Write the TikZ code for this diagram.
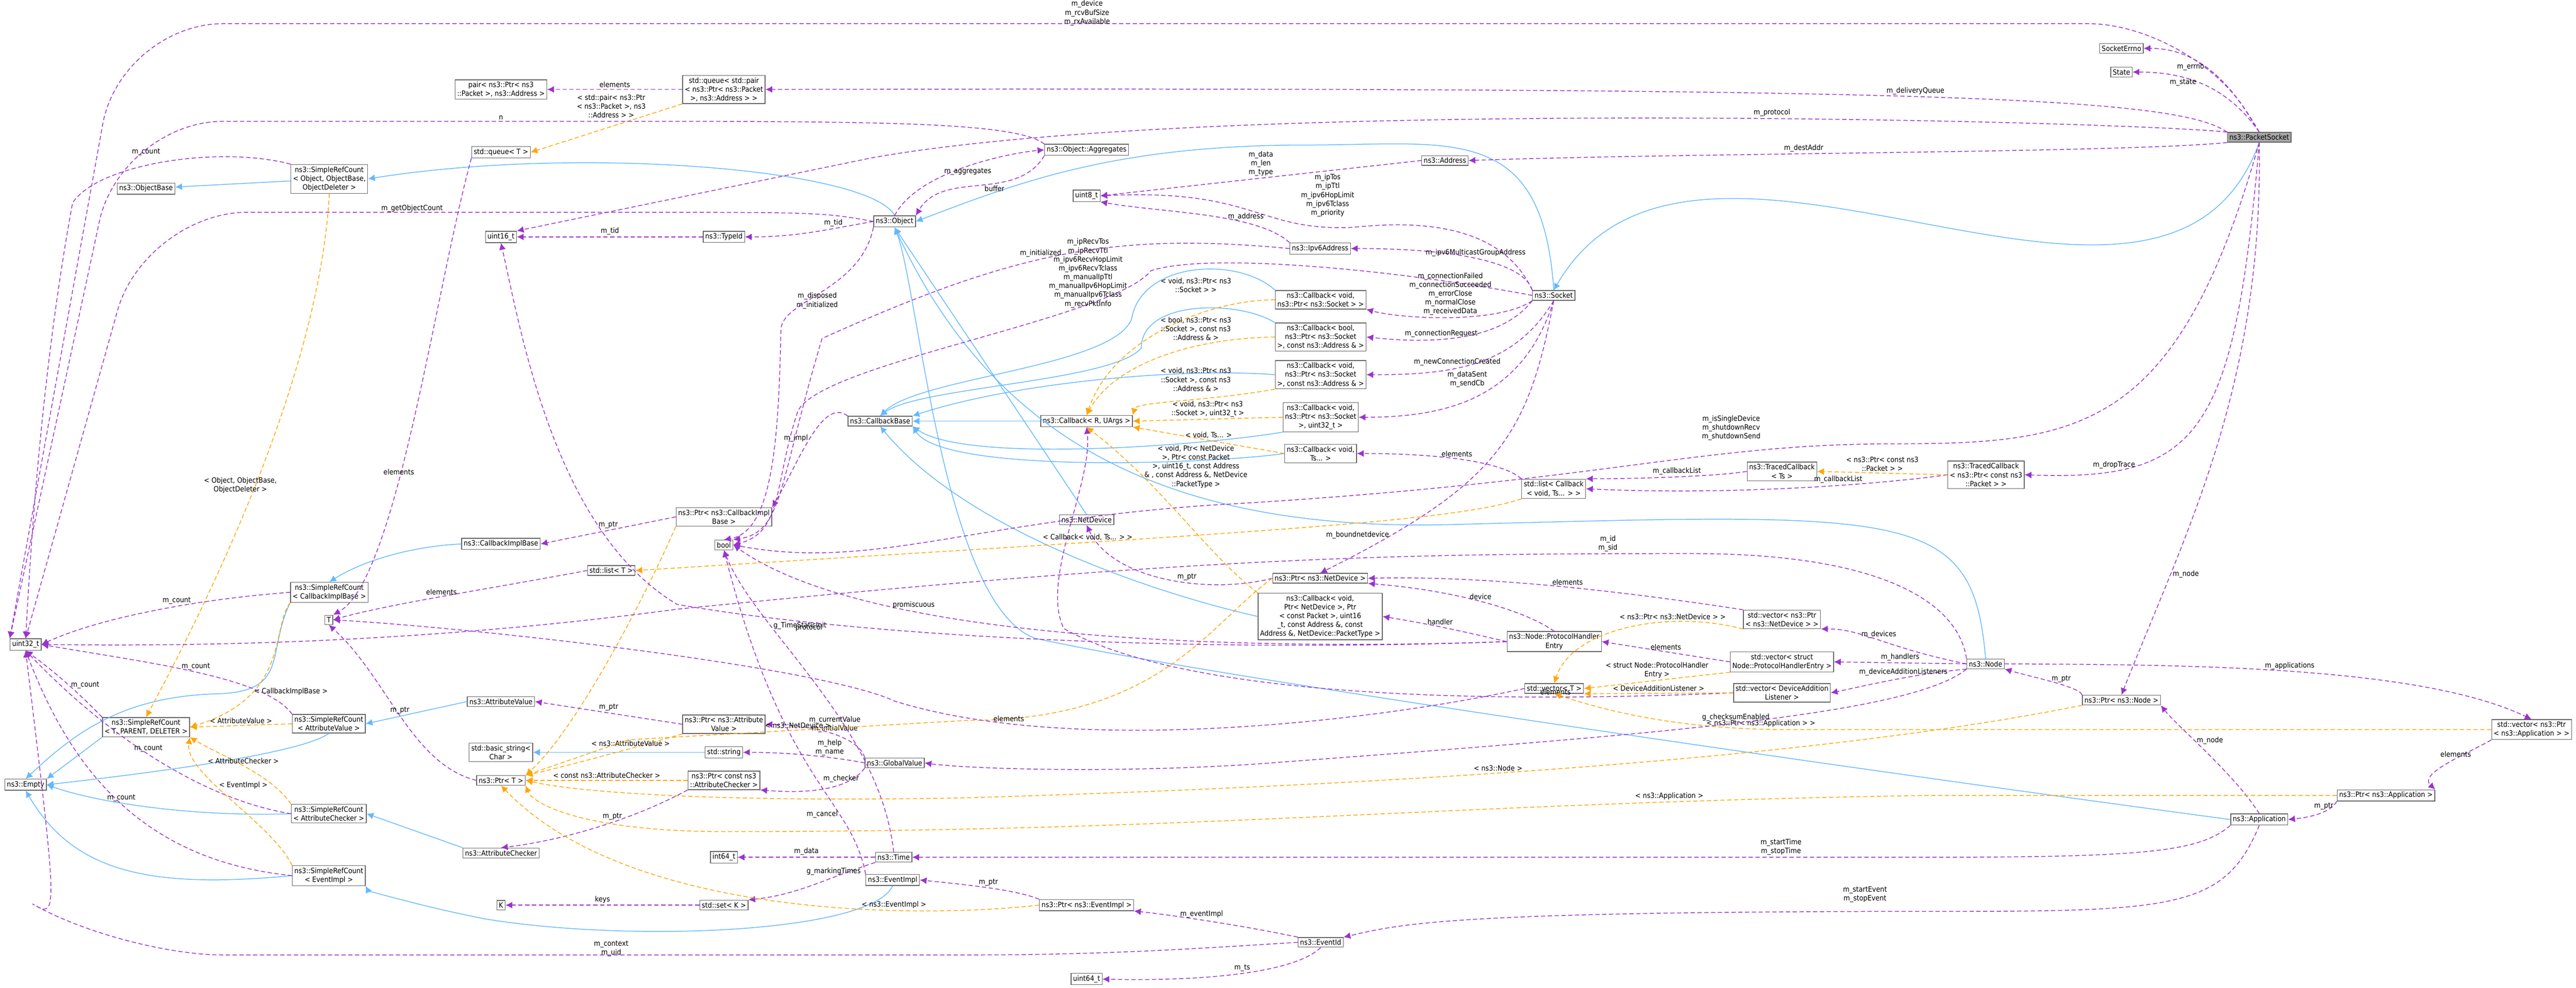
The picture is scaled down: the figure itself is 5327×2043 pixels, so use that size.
\documentclass[tikz,border=0pt]{standalone}
\usepackage{fontspec}
\setmainfont{DejaVu Sans Condensed}
\usetikzlibrary{arrows.meta,positioning,calc}
\definecolor{inhblue}{HTML}{63B8FF}
\definecolor{usepurple}{HTML}{9A32CD}
\definecolor{tmplorange}{HTML}{FFA500}
\tikzset{
  cls/.style={draw=gray!80!black, fill=white, align=center, inner sep=1.2pt, font=\fontsize{4.3}{5.2}\selectfont},
  cur/.style={cls, fill=gray!70},
  inh/.style={-{Latex[length=4pt,width=4pt]}, draw=inhblue, line width=0.45pt},
  use/.style={-{Latex[length=4pt,width=4pt]}, draw=usepurple, dash pattern=on 2.5pt off 1.5pt, line width=0.45pt},
  tmpl/.style={-{Latex[length=4pt,width=4pt]}, draw=tmplorange, dash pattern=on 2.5pt off 1.5pt, line width=0.45pt},
  lbl/.style={font=\fontsize{4.3}{5.2}\selectfont, align=center, inner sep=1pt},
}
\begin{document}
\begin{tikzpicture}[x=0.01cm, y=-0.01cm]
  \useasboundingbox (0,0) rectangle (5327,2043);
  % classes
  \node[cur] (ps) at (4672,284) {ns3::PacketSocket};
  \node[cls] (errno) at (4387,100) {SocketErrno};
  \node[cls] (state) at (4387,149) {State};
  \node[cls] (pair) at (1036,185) {pair< ns3::Ptr< ns3\\::Packet >, ns3::Address >};
  \node[cls] (qpair) at (1497,185) {std::queue< std::pair\\< ns3::Ptr< ns3::Packet\\ >, ns3::Address > >};
  \node[cls] (queueT) at (1036,315) {std::queue< T >};
  \node[cls] (srobj) at (681,370) {ns3::SimpleRefCount\\< Object, ObjectBase,\\ ObjectDeleter >};
  \node[cls] (objbase) at (302,390) {ns3::ObjectBase};
  \node[cls] (u16) at (1036,490) {uint16\_t};
  \node[cls] (typeid) at (1497,490) {ns3::TypeId};
  \node[cls] (object) at (1850,458) {ns3::Object};
  \node[cls] (aggr) at (2247,310) {ns3::Object::Aggregates};
  \node[cls] (address) at (2988,332) {ns3::Address};
  \node[cls] (u8) at (2247,405) {uint8\_t};
  \node[cls] (ipv6) at (2730,514) {ns3::Ipv6Address};
  \node[cls] (socket) at (3213,611) {ns3::Socket};
  \node[cls] (cbsock) at (2731,620) {ns3::Callback< void,\\ ns3::Ptr< ns3::Socket > >};
  \node[cls] (cbbool) at (2731,697) {ns3::Callback< bool,\\ ns3::Ptr< ns3::Socket\\ >, const ns3::Address \& >};
  \node[cls] (cbaddr) at (2731,775) {ns3::Callback< void,\\ ns3::Ptr< ns3::Socket\\ >, const ns3::Address \& >};
  \node[cls] (cbu32) at (2731,863) {ns3::Callback< void,\\ ns3::Ptr< ns3::Socket\\ >, uint32\_t >};
  \node[cls] (cbts) at (2731,938) {ns3::Callback< void,\\ Ts... >};
  \node[cls] (cbbase) at (1820,871) {ns3::CallbackBase};
  \node[cls] (cbR) at (2247,871) {ns3::Callback< R, UArgs >};
  \node[cls] (listcb) at (3213,1011) {std::list< Callback\\< void, Ts... > >};
  \node[cls] (tcts) at (3685,975) {ns3::TracedCallback\\< Ts >};
  \node[cls] (tcpkt) at (4107,982) {ns3::TracedCallback\\< ns3::Ptr< const ns3\\::Packet > >};
  \node[cls] (ptrcbimpl) at (1497,1069) {ns3::Ptr< ns3::CallbackImpl\\Base >};
  \node[cls] (cbimpl) at (1036,1125) {ns3::CallbackImplBase};
  \node[cls] (bool) at (1497,1127) {bool};
  \node[cls] (listT) at (1264,1180) {std::list< T >};
  \node[cls] (srcbimpl) at (681,1225) {ns3::SimpleRefCount\\< CallbackImplBase >};
  \node[cls] (T) at (680,1282) {T};
  \node[cls] (u32) at (53,1333) {uint32\_t};
  \node[cls] (srT) at (302,1504) {ns3::SimpleRefCount\\< T, PARENT, DELETER >};
  \node[cls] (srav) at (680,1497) {ns3::SimpleRefCount\\< AttributeValue >};
  \node[cls] (attrval) at (1036,1451) {ns3::AttributeValue};
  \node[cls] (ptrav) at (1497,1498) {ns3::Ptr< ns3::Attribute\\Value >};
  \node[cls] (bstr) at (1036,1556) {std::basic\_string<\\ Char >};
  \node[cls] (str) at (1497,1556) {std::string};
  \node[cls] (empty) at (53,1623) {ns3::Empty};
  \node[cls] (ptrT) at (1036,1614) {ns3::Ptr< T >};
  \node[cls] (ptrac) at (1497,1614) {ns3::Ptr< const ns3\\::AttributeChecker >};
  \node[cls] (srac) at (680,1683) {ns3::SimpleRefCount\\< AttributeChecker >};
  \node[cls] (attrchk) at (1036,1764) {ns3::AttributeChecker};
  \node[cls] (i64) at (1497,1773) {int64\_t};
  \node[cls] (srev) at (680,1811) {ns3::SimpleRefCount\\< EventImpl >};
  \node[cls] (K) at (1036,1872) {K};
  \node[cls] (setK) at (1497,1872) {std::set< K >};
  \node[cls] (netdev) at (2247,1075) {ns3::NetDevice};
  \node[cls] (ptrnd) at (2730,1196) {ns3::Ptr< ns3::NetDevice >};
  \node[cls] (cbnd) at (2730,1275) {ns3::Callback< void,\\ Ptr< NetDevice >, Ptr\\< const Packet >, uint16\\\_t, const Address \&, const\\ Address \&, NetDevice::PacketType >};
  \node[cls] (phe) at (3214,1327) {ns3::Node::ProtocolHandler\\Entry};
  \node[cls] (vecT) at (3214,1424) {std::vector< T >};
  \node[cls] (global) at (1850,1578) {ns3::GlobalValue};
  \node[cls] (time) at (1848,1773) {ns3::Time};
  \node[cls] (evimpl) at (1846,1820) {ns3::EventImpl};
  \node[cls] (ptrev) at (2247,1872) {ns3::Ptr< ns3::EventImpl >};
  \node[cls] (evid) at (2731,1949) {ns3::EventId};
  \node[cls] (u64) at (2247,2025) {uint64\_t};
  \node[cls] (vecnd) at (3685,1281) {std::vector< ns3::Ptr\\< ns3::NetDevice > >};
  \node[cls] (vecphe) at (3685,1369) {std::vector< struct\\ Node::ProtocolHandlerEntry >};
  \node[cls] (vecdal) at (3685,1433) {std::vector< DeviceAddition\\Listener >};
  \node[cls] (node) at (4106,1373) {ns3::Node};
  \node[cls] (ptrnode) at (4387,1448) {ns3::Ptr< ns3::Node >};
  \node[cls] (vecapp) at (5235,1509) {std::vector< ns3::Ptr\\< ns3::Application > >};
  \node[cls] (ptrapp) at (4934,1645) {ns3::Ptr< ns3::Application >};
  \node[cls] (app) at (4672,1695) {ns3::Application};

  % inheritance
  \draw[inh] (ps.south) to[out=-110,in=60] (socket.north);
  \draw[inh] (socket.north) .. controls (3190,250) and (3000,300) .. (2700,300) .. controls (2300,300) and (2100,380) .. (object.east);
  \draw[inh] (object.north) .. controls (1800,350) and (1200,300) .. (srobj.east);
  \draw[inh] (srobj) -- (objbase);
  \draw[inh] (netdev.north) -- (object.south);
  \draw[inh] (node.north) .. controls (4080,1050) and (3950,1060) .. (3000,1085) .. controls (2400,1100) and (2050,900) .. (object.south);
  \draw[inh] (app.west) .. controls (3900,1600) and (2500,1400) .. (2140,1320) .. controls (1950,1250) and (1900,600) .. (object.south);
  \draw[inh] (cbimpl.west) .. controls (850,1130) and (750,1160) .. (srcbimpl.north);
  \draw[inh] (srcbimpl.south west) .. controls (550,1350) and (600,1430) .. (450,1435) .. controls (250,1440) and (150,1520) .. (empty.north);
  \draw[inh] (attrval.west) -- (srav.east);
  \draw[inh] (srav.south) .. controls (620,1560) and (300,1600) .. (empty.east);
  \draw[inh] (attrchk.north west) -- (srac.east);
  \draw[inh] (srac.west) .. controls (400,1690) and (200,1660) .. (empty.east);
  \draw[inh] (evimpl.south) .. controls (1800,1930) and (1300,1950) .. (1000,1900) .. controls (850,1870) and (760,1840) .. (srev.south east);
  \draw[inh] (srev.west) .. controls (300,1840) and (150,1800) .. (empty.south);
  \draw[inh] (srT.south west) -- (empty.north east);
  \draw[inh] (str) -- (bstr);
  \draw[inh] (cbR) -- (cbbase);
  \draw[inh] (cbsock.north west) .. controls (2560,530) and (2360,540) .. (2340,660) .. controls (2300,760) and (1900,780) .. (cbbase.north);
  \draw[inh] (cbbool.north west) .. controls (2560,620) and (2360,620) .. (2360,720) .. controls (2300,790) and (1900,800) .. (cbbase.north);
  \draw[inh] (cbaddr.west) .. controls (2450,760) and (2100,790) .. (cbbase.north east);
  \draw[inh] (cbu32.south west) .. controls (2500,920) and (2000,960) .. (cbbase.south east);
  \draw[inh] (cbts.west) .. controls (2500,960) and (1950,980) .. (cbbase.south east);
  \draw[inh] (cbnd.west) .. controls (2400,1230) and (2000,1100) .. (cbbase.south);

  % usage
  \draw[use, rounded corners=60] (ps.north) -- (4530,49) -- (250,49) -- (u32.north west);
  \node[lbl] at (2248,27) {m\_device\\m\_rcvBufSize\\m\_rxAvailable};
  \draw[use] (ps.north) to[out=120,in=0] node[lbl,pos=0.55,left] {m\_errno} (errno.east);
  \draw[use] (ps.north) to[out=125,in=0] node[lbl,pos=0.55,left] {m\_state} (state.east);
  \draw[use] (ps.north west) .. controls (4500,200) and (4000,180) .. node[lbl,pos=0.5,above] {m\_deliveryQueue} (qpair.east);
  \draw[use] (ps.north west) .. controls (4400,251) and (2500,200) .. node[lbl,pos=0.42,above] {m\_protocol} (1800,327) -- (u16.north east);
  \draw[use] (ps.south west) .. controls (4400,316) and (3500,316) .. node[lbl,pos=0.6,above] {m\_destAddr} (address.east);
  \draw[use] (qpair) -- node[lbl,above] {elements} (pair);
  \node[lbl] at (1264,220) {< std::pair< ns3::Ptr\\< ns3::Packet >, ns3\\::Address > >};
  \draw[tmpl] (qpair.south west) -- (queueT.east);
  \draw[use, rounded corners=60] (aggr.north west) .. controls (2100,251) and (1800,251) .. (1036,251) -- (250,251) -- (u32.north west);
  \node[lbl] at (1036,243) {n};
  \draw[use, rounded corners=60] (object.west) .. controls (1700,439) .. (1036,439) -- (300,439) -- (u32.north);
  \node[lbl] at (852,431) {m\_getObjectCount};
  \draw[use] (object.west) to[out=190,in=0] node[lbl,pos=0.3,above] {m\_tid} (typeid.east);
  \draw[use] (typeid) -- node[lbl,above] {m\_tid} (u16);
  \draw[use] (object.north) .. controls (1900,350) and (2100,315) .. node[lbl,pos=0.5,below] {m\_aggregates} (aggr.west);
  \draw[use] (aggr.south west) .. controls (2100,420) and (1950,350) .. node[lbl,pos=0.4,below] {buffer} (object.north east);
  \draw[use] (address.west) -- node[lbl,above] {m\_data\\m\_len\\m\_type} (u8.east);
  \draw[use] (socket.north west) .. controls (3100,450) and (2900,460) .. (2800,470) .. controls (2600,480) and (2600,390) .. node[lbl,pos=0.1,above=5pt] {m\_ipTos\\m\_ipTtl\\m\_ipv6HopLimit\\m\_ipv6Tclass\\m\_priority} (u8.east);
  \draw[use] (ipv6.north west) .. controls (2600,440) and (2400,440) .. node[lbl,pos=0.3,above] {m\_address} (u8.south east);
  \draw[use] (socket.north west) .. controls (3150,540) and (3000,514) .. node[lbl,pos=0.5,above] {m\_ipv6MulticastGroupAddress} (ipv6.east);
  \draw[use] (socket.west) .. controls (2900,560) and (2500,520) .. (2380,560) .. controls (2300,660) and (1700,750) .. (1650,850) .. controls (1600,1000) and (1620,1100) .. (bool.east);
  \node[lbl] at (2250,565) {m\_ipRecvTos\\m\_ipRecvTtl\\m\_ipv6RecvHopLimit\\m\_ipv6RecvTclass\\m\_manualIpTtl\\m\_manualIpv6HopLimit\\m\_manualIpv6Tclass\\m\_recvPktInfo};
  \draw[use] (ipv6.west) .. controls (2300,480) and (2100,520) .. node[lbl,pos=0.55,above] {m\_initialized} (1700,700) .. controls (1610,1000) and (1620,1100) .. (bool.north east);
  \draw[use] (object.south west) .. controls (1780,600) and (1620,620) .. (1615,680) .. controls (1610,900) and (1600,1100) .. (bool.north);
  \node[lbl] at (1690,622) {m\_disposed\\m\_initialized};
  \draw[use] (socket.south west) .. controls (3100,670) and (2900,660) .. node[lbl,pos=0.5,above] {m\_connectionFailed\\m\_connectionSucceeded\\m\_errorClose\\m\_normalClose\\m\_receivedData} (cbsock.south east);
  \draw[use] (socket.south west) .. controls (3100,710) and (2950,710) .. node[lbl,pos=0.6,above] {m\_connectionRequest} (cbbool.east);
  \draw[use] (socket.south) .. controls (3130,760) and (3000,775) .. node[lbl,pos=0.6,above] {m\_newConnectionCreated} (cbaddr.east);
  \draw[use] (socket.south) .. controls (3150,820) and (3000,863) .. node[lbl,pos=0.45,above left] {m\_dataSent\\m\_sendCb} (cbu32.east);
  \draw[use] (socket.south) .. controls (3160,900) and (3100,1000) .. node[lbl,pos=0.85,left] {m\_boundnetdevice} (ptrnd.north);
  \draw[use] (ps.south) .. controls (4500,900) and (4300,918) .. (3900,918) .. controls (3500,920) and (3300,1000) .. (2500,1045) .. controls (2000,1080) and (1800,1180) .. (bool.east);
  \node[lbl] at (3580,885) {m\_isSingleDevice\\m\_shutdownRecv\\m\_shutdownSend};
  \draw[use] (listcb.north west) .. controls (3100,950) and (2950,938) .. node[lbl,pos=0.5,above] {elements} (cbts.east);
  \draw[use] (tcpkt.west) .. controls (3900,1000) and (3600,1025) .. node[lbl,pos=0.4,above] {m\_callbackList} (listcb.east);
  \draw[use] (tcts.west) .. controls (3550,985) and (3400,990) .. node[lbl,pos=0.5,above] {m\_callbackList} (listcb.north east);
  \draw[tmpl] (tcpkt.west) -- node[lbl,above] {< ns3::Ptr< const ns3\\::Packet > >} (tcts.east);
  \draw[use] (ps.south) .. controls (4620,900) and (4550,995) .. node[lbl,pos=0.8,above] {m\_dropTrace} (tcpkt.east);
  \draw[use] (ps.south) .. controls (4680,800) and (4520,1100) .. node[lbl,pos=0.75,right] {m\_node} (ptrnode.north);
  \draw[use] (cbbase.north west) .. controls (1700,820) and (1650,960) .. node[lbl,pos=0.5,left] {m\_impl} (ptrcbimpl.north east);
  \draw[use] (ptrcbimpl.west) -- node[lbl,above] {m\_ptr} (cbimpl.east);
  \draw[tmpl] (ptrcbimpl.south west) .. controls (1350,1200) and (1200,1500) .. (ptrT.north east);
  \draw[tmpl] (srcbimpl.south west) .. controls (560,1300) and (600,1440) .. node[lbl,pos=0.7,right] {< CallbackImplBase >} (srT.east);
  \draw[tmpl] (srobj.south) .. controls (660,800) and (400,1300) .. (srT.north);
  \node[lbl] at (497,1004) {< Object, ObjectBase,\\ObjectDeleter >};
  \draw[use] (srcbimpl.west) .. controls (400,1240) and (200,1280) .. node[lbl,pos=0.4,above] {m\_count} (u32.east);
  \draw[use] (srobj.north west) .. controls (450,300) and (200,340) .. (150,420) .. controls (80,800) and (60,1200) .. (u32.north);
  \node[lbl] at (302,315) {m\_count};
  \draw[use] (srT.north west) .. controls (150,1420) and (100,1380) .. node[lbl,pos=0.4,right] {m\_count} (u32.south);
  \draw[use] (srav.north west) .. controls (550,1400) and (300,1370) .. node[lbl,pos=0.5,above] {m\_count} (u32.east);
  \draw[use] (srac.west) .. controls (400,1650) and (200,1500) .. node[lbl,pos=0.5,above] {m\_count} (u32.south);
  \draw[use] (srev.west) .. controls (300,1780) and (150,1600) .. node[lbl,pos=0.5,above] {m\_count} (u32.south);
  \draw[tmpl] (srav.west) -- node[lbl,above] {< AttributeValue >} (srT.east);
  \draw[tmpl] (srac.north west) .. controls (560,1600) and (450,1560) .. node[lbl,pos=0.5,above] {< AttributeChecker >} (srT.south east);
  \draw[tmpl] (srev.north west) .. controls (560,1700) and (380,1600) .. node[lbl,pos=0.6,right] {< EventImpl >} (srT.south east);
  \draw[use] (queueT.south west) .. controls (900,600) and (820,1200) .. node[lbl,pos=0.6,above] {elements} (T.north east);
  \draw[use] (listT.west) .. controls (1000,1220) and (800,1250) .. node[lbl,pos=0.5,above] {elements} (T.east);
  \draw[use] (ptrT.west) .. controls (850,1580) and (800,1400) .. node[lbl,pos=0.5,above] {m\_ptr} (T.south);
  \draw[use] (ptrav.west) -- node[lbl,above] {m\_ptr} (attrval.east);
  \draw[tmpl] (ptrav.south west) .. controls (1300,1550) and (1150,1590) .. node[lbl,pos=0.3,above] {< ns3::AttributeValue >} (ptrT.north east);
  \draw[tmpl] (ptrac.west) -- node[lbl,above] {< const ns3::AttributeChecker >} (ptrT.east);
  \draw[use] (ptrac.south west) .. controls (1300,1700) and (1150,1740) .. node[lbl,pos=0.4,above] {m\_ptr} (attrchk.north);
  \draw[use] (global.north west) .. controls (1780,1530) and (1700,1500) .. node[lbl,pos=0.5,above] {m\_currentValue\\m\_initialValue} (ptrav.east);
  \draw[use] (global.west) .. controls (1750,1570) and (1650,1556) .. node[lbl,pos=0.4,above] {m\_help\\m\_name} (str.east);
  \draw[use] (global.south west) .. controls (1750,1640) and (1650,1640) .. node[lbl,pos=0.3,above] {m\_checker} (ptrac.south east);
  \draw[use] (time.west) -- node[lbl,above] {m\_data} (i64.east);
  \draw[use] (time.south west) .. controls (1700,1820) and (1650,1850) .. node[lbl,pos=0.3,above] {g\_markingTimes} (setK.north east);
  \draw[use] (setK) -- node[lbl,above] {keys} (K);
  \draw[use] (time.north) .. controls (1820,1500) and (1560,1300) .. node[lbl,pos=0.7,right] {g\_TimeStaticInit} (bool.south);
  \draw[use] (evimpl.north west) .. controls (1760,1650) and (1620,1620) .. node[lbl,pos=0.3,left] {m\_cancel} (bool.south);
  \draw[use] (ptrev.north west) .. controls (2100,1840) and (2000,1830) .. node[lbl,pos=0.5,above] {m\_ptr} (evimpl.east);
  \draw[tmpl] (ptrev.west) .. controls (1900,1900) and (1300,1900) .. node[lbl,pos=0.3,above] {< ns3::EventImpl >} (ptrT.south);
  \draw[use] (evid.north west) .. controls (2550,1910) and (2400,1890) .. node[lbl,pos=0.5,above] {m\_eventImpl} (ptrev.south east);
  \draw[use, rounded corners=60] (evid.west) .. controls (2500,1960) and (2300,1975) .. (1800,1975) -- (250,1975) .. controls (120,1900) .. (u32.south);
  \node[lbl] at (1264,1962) {m\_context\\m\_uid};
  \draw[use] (evid.south) .. controls (2680,2010) and (2500,2030) .. node[lbl,pos=0.5,above] {m\_ts} (u64.east);
  \draw[use] (ptrnd.west) .. controls (2500,1230) and (2300,1200) .. node[lbl,pos=0.4,above] {m\_ptr} (netdev.south);
  \draw[tmpl] (ptrnd.west) .. controls (2500,1290) and (2400,1490) .. (2000,1490) -- node[lbl,pos=0.5,above] {< ns3::NetDevice >} (1300,1530) -- (ptrT.north east);
  \draw[use] (phe.north) .. controls (3150,1260) and (3000,1220) .. node[lbl,pos=0.5,above] {device} (ptrnd.south east);
  \draw[use] (phe.west) .. controls (3000,1300) and (2950,1290) .. node[lbl,pos=0.5,above] {handler} (cbnd.east);
  \draw[use] (phe.west) .. controls (2600,1345) and (1800,1330) .. node[lbl,pos=0.7,above] {promiscuous} (bool.east);
  \draw[use] (phe.west) .. controls (2500,1350) and (1800,1320) .. node[lbl,pos=0.8,below] {protocol} (1400,1250) .. controls (1150,1100) and (1080,700) .. (u16.south);
  \draw[use] (vecnd.north west) .. controls (3400,1230) and (3100,1190) .. node[lbl,pos=0.5,above] {elements} (ptrnd.east);
  \draw[use] (vecphe.west) -- node[lbl,above] {elements} (phe.east);
  \draw[use] (vecdal.west) .. controls (3300,1445) and (2500,1470) .. node[lbl,pos=0.3,above] {elements} (2200,1300) .. controls (2150,1200) and (2260,1000) .. (cbR.south);
  \draw[use] (vecT.west) .. controls (2800,1500) and (2200,1560) .. node[lbl,pos=0.8,above] {elements} (1850,1450) .. controls (1700,1380) and (1000,1300) .. (T.east);
  \draw[tmpl] (vecnd.south west) .. controls (3450,1260) and (3250,1300) .. node[lbl,pos=0.3,above] {< ns3::Ptr< ns3::NetDevice > >} (vecT.north);
  \draw[tmpl] (vecphe.south west) -- node[lbl,above] {< struct Node::ProtocolHandler\\Entry >} (vecT.east);
  \draw[tmpl] (vecdal.west) -- node[lbl,above] {< DeviceAdditionListener >} (vecT.south east);
  \draw[tmpl] (vecapp.west) -- (3700,1509) .. controls (3500,1509) and (3350,1480) .. node[lbl,pos=0.1,above] {< ns3::Ptr< ns3::Application > >} (vecT.south);
  \draw[tmpl] (listcb.south west) .. controls (3000,1080) and (2600,1100) .. node[lbl,pos=0.7,above] {< Callback< void, Ts... > >} (listT.east);
  \draw[use] (node.north west) .. controls (4050,1250) and (3900,1145) .. (3500,1145) .. controls (2900,1145) and (2500,1150) .. node[lbl,pos=0.1,above] {m\_id\\m\_sid} (1400,1260) .. controls (800,1340) and (300,1335) .. (u32.east);
  \draw[use] (node.west) .. controls (3900,1340) and (3850,1300) .. node[lbl,pos=0.5,above] {m\_devices} (vecnd.south east);
  \draw[use] (node.west) -- node[lbl,above] {m\_handlers} (vecphe.east);
  \draw[use] (node.south west) .. controls (3950,1395) and (3850,1420) .. node[lbl,pos=0.4,above] {m\_deviceAdditionListeners} (vecdal.east);
  \draw[use] (node.south west) .. controls (3950,1480) and (3400,1520) .. node[lbl,pos=0.5,above] {g\_checksumEnabled} (2600,1580) .. controls (2300,1600) and (2000,1590) .. (global.east);
  \draw[use] (node.east) .. controls (4500,1375) and (5000,1375) .. node[lbl,pos=0.5,above] {m\_applications} (vecapp.north);
  \draw[use] (ptrnode.north west) .. controls (4300,1420) and (4200,1400) .. node[lbl,pos=0.4,above] {m\_ptr} (node.south east);
  \draw[tmpl] (ptrnode.south west) .. controls (3800,1560) and (3000,1620) .. node[lbl,pos=0.6,above] {< ns3::Node >} (2000,1650) .. controls (1500,1660) and (1200,1640) .. (ptrT.east);
  \draw[use] (app.north) .. controls (4620,1600) and (4500,1500) .. node[lbl,pos=0.6,right] {m\_node} (ptrnode.south east);
  \draw[use] (vecapp.south west) .. controls (5100,1560) and (5000,1600) .. node[lbl,pos=0.4,above] {elements} (ptrapp.north east);
  \draw[use] (ptrapp.south west) .. controls (4820,1680) and (4780,1690) .. node[lbl,pos=0.4,above] {m\_ptr} (app.east);
  \draw[tmpl] (ptrapp.west) -- (4000,1645) .. controls (3000,1660) and (2500,1720) .. node[lbl,pos=0.2,above] {< ns3::Application >} (1500,1720) .. controls (1200,1720) and (1100,1660) .. (ptrT.south east);
  \draw[use] (app.south west) .. controls (4550,1760) and (4450,1773) .. (4000,1773) -- node[lbl,pos=0.15,above] {m\_startTime\\m\_stopTime} (time.east);
  \draw[use] (app.south) .. controls (4600,1880) and (4500,1885) .. (4000,1885) .. controls (3000,1885) and (2900,1910) .. node[lbl,pos=0.05,above=4pt] {m\_startEvent\\m\_stopEvent} (evid.north east);

  % template instances of Callback< R, UArgs >
  \draw[tmpl] (cbsock.west) .. controls (2500,620) and (2300,700) .. (cbR.north);
  \node[lbl] at (2473,590) {< void, ns3::Ptr< ns3\\::Socket > >};
  \draw[tmpl] (cbbool.west) .. controls (2450,700) and (2300,760) .. (cbR.north);
  \node[lbl] at (2473,680) {< bool, ns3::Ptr< ns3\\::Socket >, const ns3\\::Address \& >};
  \draw[tmpl] (cbaddr.south west) .. controls (2500,830) and (2350,830) .. (cbR.north east);
  \node[lbl] at (2473,785) {< void, ns3::Ptr< ns3\\::Socket >, const ns3\\::Address \& >};
  \draw[tmpl] (cbu32.west) -- node[lbl,above] {< void, ns3::Ptr< ns3\\::Socket >, uint32\_t >} (cbR.east);
  \draw[tmpl] (cbts.west) -- node[lbl,above] {< void, Ts... >} (cbR.south east);
  \draw[tmpl] (cbnd.north west) .. controls (2500,1150) and (2400,1000) .. (cbR.south);
  \node[lbl] at (2473,965) {< void, Ptr< NetDevice\\ >, Ptr< const Packet\\ >, uint16\_t, const Address\\ \& , const Address \&, NetDevice\\::PacketType >};
\end{tikzpicture}
\end{document}
